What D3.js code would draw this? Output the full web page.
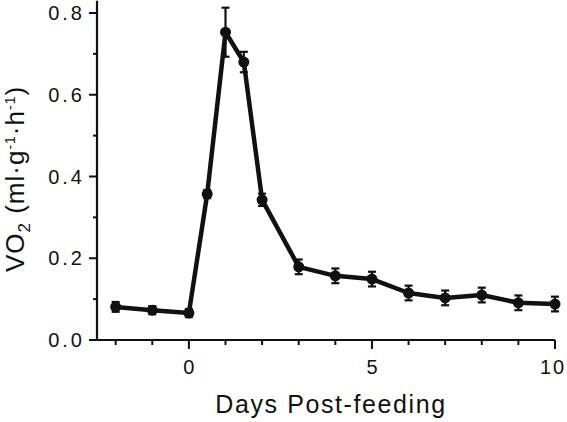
<!DOCTYPE html>
<html><head><meta charset="utf-8">
<script src="https://cdn.jsdelivr.net/npm/d3@7"></script>
<style>body{margin:0;background:#fff}svg{display:block}</style>
</head><body>
<svg id="c" width="567" height="422"></svg>
<script>
const days = [-2, -1, 0, 0.5, 1, 1.5, 2, 3, 4, 5, 6, 7, 8, 9, 10];
const vo2 = [0.081, 0.073, 0.066, 0.357, 0.753, 0.680, 0.343, 0.179, 0.157, 0.149, 0.115, 0.103, 0.110, 0.091, 0.088];
const sem = [0.012, 0.010, 0.010, 0.010, 0.060, 0.025, 0.015, 0.018, 0.018, 0.018, 0.018, 0.018, 0.018, 0.018, 0.018];
const xTickLabels = [0, 5, 10];
const yTickLabels = [0.0, 0.2, 0.4, 0.6, 0.8];

const svg = d3.select("#c");
const font = "'Liberation Sans', Arial, sans-serif";
const ink = "#111";
const x = d3.scaleLinear().domain([-2.51, 10]).range([97, 555]);
const y = d3.scaleLinear().domain([0, 0.8]).range([340, 13]);

// axes lines
svg.append("line").attr("x1", 97).attr("x2", 97).attr("y1", y(0)).attr("y2", y(0.83))
  .attr("stroke", ink).attr("stroke-width", 2.2);
svg.append("line").attr("x1", 97).attr("x2", x(10)).attr("y1", y(0)).attr("y2", y(0))
  .attr("stroke", ink).attr("stroke-width", 2.2);

// y ticks
const yMinor = d3.range(0, 0.81, 0.1);
svg.selectAll(".yt").data(yMinor).join("line")
  .attr("x1", 97).attr("x2", (d, i) => i % 2 === 0 ? 89 : 93)
  .attr("y1", d => y(d)).attr("y2", d => y(d)).attr("stroke", ink).attr("stroke-width", 2);
svg.selectAll(".yl").data(yTickLabels).join("text")
  .attr("x", 85).attr("y", d => y(d) + 7).attr("text-anchor", "end")
  .attr("font-family", font).attr("font-size", 20).attr("letter-spacing", 3).attr("fill", ink)
  .text(d => d.toFixed(1));

// x ticks
const xMinor = d3.range(-2, 10.5, 1);
svg.selectAll(".xt").data(xMinor).join("line")
  .attr("x1", d => x(d)).attr("x2", d => x(d))
  .attr("y1", y(0)).attr("y2", d => xTickLabels.includes(d) ? y(0) + 9 : y(0) + 5)
  .attr("stroke", ink).attr("stroke-width", 2);
svg.selectAll(".xl").data(xTickLabels).join("text")
  .attr("x", d => Math.min(x(d) + 1, 553)).attr("y", 374).attr("text-anchor", "middle")
  .attr("font-family", font).attr("font-size", 20).attr("letter-spacing", 2).attr("fill", ink)
  .text(d => d);

svg.append("text").attr("x", 331).attr("y", 413).attr("text-anchor", "middle")
  .attr("font-family", font).attr("font-size", 25).attr("letter-spacing", 1.6).attr("fill", ink)
  .text("Days Post-feeding");

// y label
const yl = svg.append("text").attr("transform", "translate(24,179) rotate(-90)")
  .attr("text-anchor", "middle").attr("font-family", font).attr("font-size", 26)
  .attr("letter-spacing", 1).attr("fill", ink);
yl.append("tspan").text("VO");
yl.append("tspan").attr("font-size", 17).attr("dy", 6).text("2");
yl.append("tspan").attr("dy", -6).text(" (ml·g");
yl.append("tspan").attr("font-size", 14).attr("dy", -9).text("-1");
yl.append("tspan").attr("dy", 9).text("·h");
yl.append("tspan").attr("font-size", 14).attr("dy", -9).text("-1");
yl.append("tspan").attr("dy", 9).text(")");

const pts = days.map((d, i) => ({d, v: vo2[i], e: sem[i]}));

// error bars
svg.selectAll(".eb").data(pts).join("line")
  .attr("x1", p => x(p.d)).attr("x2", p => x(p.d))
  .attr("y1", p => y(p.v + p.e)).attr("y2", p => y(p.v - p.e))
  .attr("stroke", ink).attr("stroke-width", 2.2);
svg.selectAll(".ec1").data(pts).join("line")
  .attr("x1", p => x(p.d) - 4).attr("x2", p => x(p.d) + 4)
  .attr("y1", p => y(p.v + p.e)).attr("y2", p => y(p.v + p.e))
  .attr("stroke", ink).attr("stroke-width", 2.2);
svg.selectAll(".ec2").data(pts).join("line")
  .attr("x1", p => x(p.d) - 4).attr("x2", p => x(p.d) + 4)
  .attr("y1", p => y(p.v - p.e)).attr("y2", p => y(p.v - p.e))
  .attr("stroke", ink).attr("stroke-width", 2.2);

// line
svg.append("path").datum(pts)
  .attr("d", d3.line().x(p => x(p.d)).y(p => y(p.v)))
  .attr("fill", "none").attr("stroke", ink).attr("stroke-width", 4.5).attr("stroke-linejoin", "round");

svg.selectAll(".pt").data(pts).join("circle")
  .attr("cx", p => x(p.d)).attr("cy", p => y(p.v)).attr("r", 5.5).attr("fill", ink);
</script>
</body></html>
